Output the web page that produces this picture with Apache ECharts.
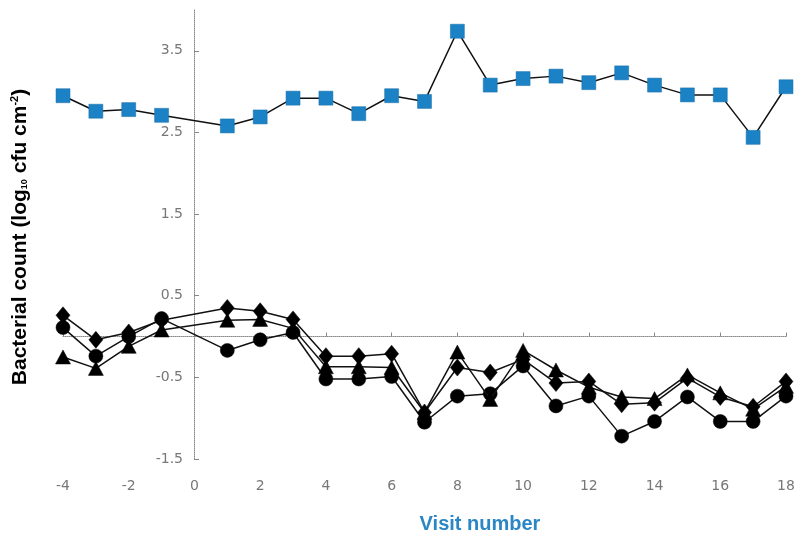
<!DOCTYPE html>
<html><head><meta charset="utf-8">
<script src="https://cdn.jsdelivr.net/npm/echarts@6/dist/echarts.min.js"></script>
<style>html,body{margin:0;padding:0;background:#fff}#c{width:802px;height:538px}</style>
</head><body><div id="c"></div>
<script>
const visits = [-4,-3,-2,-1,1,2,3,4,5,6,7,8,9,10,11,12,13,14,15,16,17,18];
const squares = [2.95,2.76,2.78,2.71,2.58,2.69,2.92,2.92,2.73,2.95,2.88,3.74,3.08,3.16,3.19,3.11,3.23,3.08,2.96,2.96,2.44,3.06];
const diamonds = [0.26,-0.04,0.05,0.20,0.35,0.31,0.21,-0.24,-0.24,-0.21,-0.93,-0.38,-0.44,-0.28,-0.57,-0.55,-0.83,-0.81,-0.51,-0.74,-0.86,-0.55];
const triangles = [-0.25,-0.39,-0.12,0.08,0.20,0.21,0.10,-0.37,-0.37,-0.38,-0.93,-0.19,-0.77,-0.17,-0.41,-0.62,-0.74,-0.76,-0.47,-0.69,-0.89,-0.61];
const circles = [0.11,-0.24,0.00,0.22,-0.17,-0.04,0.05,-0.52,-0.52,-0.49,-1.05,-0.73,-0.70,-0.36,-0.85,-0.73,-1.22,-1.04,-0.74,-1.04,-1.04,-0.73];
const xTicks = [-4,-2,0,2,4,6,8,10,12,14,16,18];
const yTicks = [-1.5,-0.5,0.5,1.5,2.5,3.5];

const pairs = v => visits.map((x,i)=>[x,v[i]]);
const chart = echarts.init(document.getElementById('c'));
const lbl = {color:'#777', fontSize:14, fontFamily:'DejaVu Sans'};
const mk = (name, data, symbol, size, color, z) => ({
  name, type:'line', data:pairs(data), symbol, symbolSize:size, z,
  lineStyle:{color:'#111', width:1.5}, itemStyle:{color, borderColor: color==='#000'?'#000':'#1a6fa8', borderWidth:0.5},
  animation:false
});
chart.setOption({
  animation:false,
  grid:{left:63, right:16, top:10, bottom:79, containLabel:false},
  xAxis:[
    {type:'value', min:-4, max:18, interval:2, position:'bottom',
     axisLine:{onZero:false, show:false}, axisTick:{show:false}, splitLine:{show:false},
     axisLabel:{...lbl, margin:20}},
    {type:'value', min:-4, max:18, interval:2, position:'bottom',
     axisLine:{onZero:true, show:true, lineStyle:{color:'#888', type:'dotted', width:1}},
     axisTick:{show:true, inside:true, length:4, lineStyle:{color:'#888'}},
     axisLabel:{show:false}, splitLine:{show:false}}
  ],
  yAxis:{type:'value', min:-1.5, max:4, position:'left', offset:-131,
    axisLine:{show:true, onZero:false, lineStyle:{color:'#888', type:'dotted', width:1}},
    axisTick:{show:true, inside:true, length:5, customValues:yTicks, lineStyle:{color:'#888'}},
    axisLabel:{...lbl, margin:11, customValues:yTicks},
    splitLine:{show:false}},
  series:[
    mk('circle', circles, 'circle', 14, '#000', 3),
    mk('triangle', triangles, 'triangle', [15,14], '#000', 4),
    mk('diamond', diamonds, 'diamond', [14,17], '#000', 5),
    mk('square', squares, 'rect', 14, '#1b82c5', 6)
  ],
  graphic:[
    {type:'text', x:480, y:524, style:{text:'Visit number', fill:'#2a86c4', font:'bold 20px "Liberation Sans"', align:'center', verticalAlign:'middle'}},
    {type:'text', x:20, y:237, rotation:Math.PI/2,
     style:{text:'Bacterial count (log{sub|10} cfu cm{sup|-2})', fill:'#000', font:'bold 21px "Liberation Sans"',
       align:'center', verticalAlign:'middle',
       rich:{sub:{fontSize:9, fontWeight:'bold', fontFamily:'Liberation Sans', padding:[9,0,0,0]},
             sup:{fontSize:11, fontWeight:'bold', fontFamily:'Liberation Sans', padding:[0,0,10,0]}}}}
  ]
});
</script></body></html>
